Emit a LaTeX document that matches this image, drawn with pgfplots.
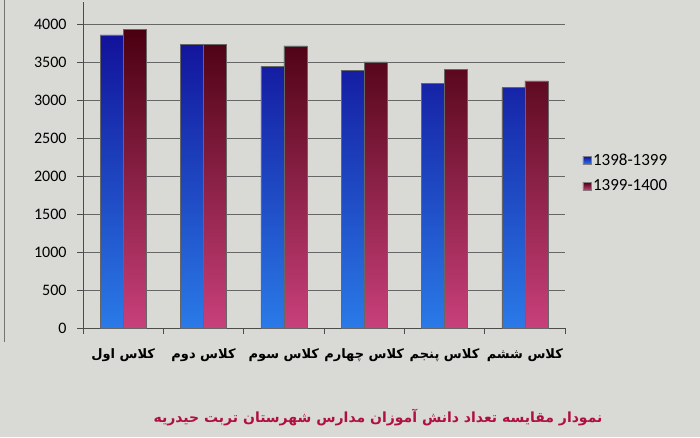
\documentclass[border=0pt]{standalone}
\usepackage{pgfplots}
\pgfplotsset{compat=1.18}
\usepackage{fontspec}
\setmainfont{Carlito}
\newfontfamily\arabicfont[Script=Arabic]{DejaVu Sans}
\TeXXeTstate=1
\definecolor{bgcol}{HTML}{D9D9D5}
\definecolor{bluetop}{HTML}{12129A}
\definecolor{bluebot}{HTML}{2A7AE8}
\definecolor{redtop}{HTML}{4A0010}
\definecolor{redbot}{HTML}{C8407A}
\definecolor{legblue}{HTML}{1E3CC0}
\definecolor{legred}{HTML}{6A0A20}
\definecolor{titlecol}{HTML}{B01040}
\begin{document}
\begin{tikzpicture}
\fill[bgcol] (0,0) rectangle (700pt,437pt);
\useasboundingbox (0,0) rectangle (700pt,437pt);
\draw[black!55, line width=1pt] (4pt,437pt) -- (4pt,95pt);
\begin{axis}[
  at={(83pt,109pt)}, anchor=south west,
  scale only axis, width=482pt, height=326pt,
  ybar=0pt, bar width=23pt,
  xmin=-0.5, xmax=5.5, ymin=0, ymax=4300,
  axis lines=left,
  axis line style={-, draw=black!70, line width=0.9pt},
  ytick={0,500,...,4000},
  ymajorgrids, grid style={draw=black!60, line width=1pt},
  tick align=outside,
  major tick length=6pt, minor tick length=6pt,
  major y tick style={draw=black!70, line width=0.9pt},
  major x tick style={draw=none},
  minor x tick style={draw=black!70, line width=0.8pt},
  xtick={0,1,2,3,4,5},
  minor xtick={-0.5,0.5,1.5,2.5,3.5,4.5,5.5},
  xticklabels={
    {\beginR کلاس اول\endR},
    {\beginR کلاس دوم\endR},
    {\beginR کلاس سوم\endR},
    {\beginR کلاس چهارم\endR},
    {\beginR کلاس پنجم\endR},
    {\beginR کلاس ششم\endR}},
  xticklabel style={font=\arabicfont\bfseries\fontsize{13}{15}\selectfont, yshift=-11pt},
  yticklabel style={font=\fontsize{16}{18}\selectfont, xshift=-7pt},
  /pgf/number format/assume math mode=true,
  /pgf/number format/1000 sep={},
  legend style={at={(1.03,0.475)}, anchor=west, draw=none, fill=none,
    font=\fontsize{17}{19}\selectfont, row sep=9pt},
  legend cell align=left,
]
\addplot[draw=black!60, line width=0.4pt, top color=bluetop, bottom color=bluebot,
  legend image code/.code={\fill[legblue, draw=black!50] (0pt,-4pt) rectangle (8pt,4pt);}]
  coordinates {(0,3865) (1,3745) (2,3450) (3,3395) (4,3225) (5,3170)};
\addlegendentry{1398-1399}
\addplot[draw=black!60, line width=0.4pt, top color=redtop, bottom color=redbot,
  legend image code/.code={\fill[legred, draw=black!50] (0pt,-4pt) rectangle (8pt,4pt);}]
  coordinates {(0,3935) (1,3745) (2,3720) (3,3510) (4,3415) (5,3260)};
\addlegendentry{1399-1400}
\end{axis}
\node[font=\arabicfont\bfseries\fontsize{14}{16}\selectfont, text=titlecol] at (378pt,19pt)
  {\beginR نمودار مقایسه تعداد دانش آموزان مدارس شهرستان تربت حیدریه\endR};
\end{tikzpicture}
\end{document}
